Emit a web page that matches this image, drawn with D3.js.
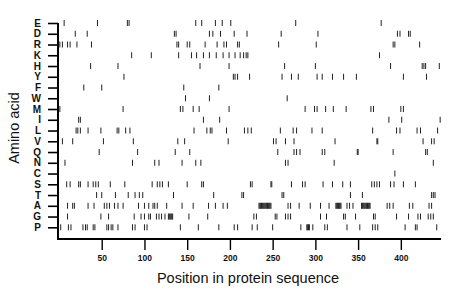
<!DOCTYPE html>
<html>
<head>
<meta charset="utf-8">
<script src="https://cdn.jsdelivr.net/npm/d3@7"></script>
<style>
  body { margin: 0; background: #fff; }
  svg text { font-family: "Liberation Sans", Arial, sans-serif; }
</style>
</head>
<body>
<div id="chart"></div>
<script>
const width = 460,
    height = 299;

// rows of the plot, top to bottom
const aminoAcids = ["E","D","R","K","H","Y","F","W","M","I","L","V","Q","N","C","S","T","A","G","P"];
const xTicks = [50, 100, 150, 200, 250, 300, 350, 400];
const seqLength = 447;

// positions (residue index) where each amino acid occurs
const posE = [6, 45, 80, 82, 160, 167, 183, 191, 201, 277, 377];
const posD = [19, 33, 135, 137, 176, 180, 189, 205, 220, 260, 303, 396, 399, 409, 411];
const posR = [1, 4, 10, 13, 21, 38, 138, 140, 150, 153, 171, 185, 193, 196, 209, 211, 257, 301, 391, 393, 422];
const posK = [85, 108, 140, 155, 161, 169, 176, 184, 192, 199, 206, 212, 216, 219, 221, 375];
const posH = [37, 69, 165, 199, 264, 300, 388, 425, 427, 429, 445];
const posY = [76, 204, 206, 209, 223, 261, 272, 280, 302, 308, 320, 333, 348, 403, 430];
const posF = [29, 50, 146, 187];
const posW = [148, 176, 267];
const posM = [1, 75, 142, 145, 157, 164, 199, 288, 299, 302, 312, 321, 336, 365, 368, 400, 403];
const posI = [23, 25, 169, 188, 386, 401, 446];
const posL = [20, 22, 25, 34, 49, 68, 70, 78, 83, 158, 173, 177, 179, 196, 217, 221, 225, 259, 274, 278, 296, 308, 367, 395, 399, 419, 423, 443];
const posV = [4, 16, 52, 87, 139, 147, 198, 251, 254, 265, 275, 323, 372, 373, 426, 436, 439];
const posQ = [47, 92, 136, 153, 256, 275, 278, 282, 308, 311, 349, 350, 391, 429, 431];
const posN = [7, 86, 112, 117, 144, 160, 166, 265, 268, 322, 438];
const posC = [393];
const posS = [9, 13, 23, 25, 34, 40, 43, 46, 60, 77, 109, 115, 118, 121, 128, 150, 167, 169, 224, 226, 248, 249, 272, 285, 288, 309, 320, 332, 341, 366, 369, 372, 375, 388, 392, 403, 417];
const posT = [44, 50, 66, 81, 89, 94, 98, 134, 181, 214, 216, 261, 263, 341, 355, 436, 438, 440];
const posA = [10, 16, 18, 34, 41, 53, 56, 59, 65, 69, 75, 93, 100, 105, 110, 112, 115, 126, 144, 157, 175, 183, 192, 197,
    234, 235, 236, 237, 238, 239, 240, 241, 242, 243, 244, 245, 246, 247, 248,
    268, 271, 281, 294, 306, 316, 324, 325, 326, 327, 328, 329, 330, 337, 340, 344,
    354, 355, 356, 357, 358, 359, 360, 361, 362, 363, 364, 384, 387, 391, 410, 414, 433, 436];
const posG = [10, 49, 58, 88, 96, 100, 105, 107, 114, 117, 120, 124, 128, 129, 130, 131, 132, 133, 152, 174, 228, 231, 253, 255, 265, 268, 271, 306, 313, 333, 335, 347, 368, 370, 395, 409, 420, 423, 432, 435, 438];
const posP = [2, 11, 14, 28, 31, 33, 40, 42, 56, 58, 61, 63, 69, 86, 89, 100, 103, 142, 163, 187, 205, 209, 226, 232, 250, 283, 290, 291, 292, 293, 297, 311, 314, 337, 352, 367, 370, 373, 405, 417, 419, 442];

const positions = [posE, posD, posR, posK, posH, posY, posF, posW, posM, posI, posL, posV, posQ, posN, posC, posS, posT, posA, posG, posP];

// flatten into {aa, pos} marks
let marks = [];
aminoAcids.forEach((aa, i) => {
    for (let p of positions[i]) marks.push({ aa: aa, pos: p });
});

const svg = d3.select("#chart")
    .append("svg")
    .attr("width", width)
    .attr("height", height);

let x = d3.scaleLinear()
    .domain([0, seqLength])
    .range([59, 441]);

let y = d3.scalePoint()
    .domain(aminoAcids)
    .range([23, 227.3]);

const axisY = 239;

// y axis
let gy = svg.append("g")
    .attr("transform", "translate(58,0)")
    .call(d3.axisLeft(y).tickSize(10).tickPadding(7).tickSizeOuter(0));
gy.select(".domain").remove();
gy.selectAll(".tick line").attr("stroke", "#000").attr("stroke-width", 1.6);
gy.selectAll(".tick text")
    .attr("font-size", 10)
    .attr("font-weight", "bold")
    .attr("fill", "#111");

// x axis
let gx = svg.append("g")
    .attr("transform", `translate(0,${axisY})`)
    .call(d3.axisBottom(x).tickValues(xTicks).tickSize(11).tickPadding(5).tickSizeOuter(0));
gx.select(".domain").remove();
gx.selectAll(".tick line").attr("stroke", "#000").attr("stroke-width", 1.4);
gx.selectAll(".tick text")
    .attr("font-size", 8.5)
    .attr("font-weight", "bold")
    .attr("fill", "#111");

// L-shaped frame
svg.append("path")
    .attr("d", `M58,${y("E")}V${axisY}H441`)
    .attr("fill", "none")
    .attr("stroke", "#000")
    .attr("stroke-width", 2);

// residue marks
svg.append("g")
    .selectAll("rect")
    .data(marks)
    .join("rect")
    .attr("x", d => x(d.pos) - 0.5)
    .attr("y", d => y(d.aa) - 3)
    .attr("width", 1)
    .attr("height", 6)
    .attr("fill", "#222");

// axis titles
svg.append("text")
    .attr("x", 248)
    .attr("y", 283)
    .attr("text-anchor", "middle")
    .attr("font-size", 14.5)
    .attr("fill", "#111")
    .text("Position in protein sequence");

svg.append("text")
    .attr("transform", "translate(19,128) rotate(-90)")
    .attr("text-anchor", "middle")
    .attr("font-size", 14.5)
    .attr("fill", "#111")
    .text("Amino acid");
</script>
</body>
</html>
